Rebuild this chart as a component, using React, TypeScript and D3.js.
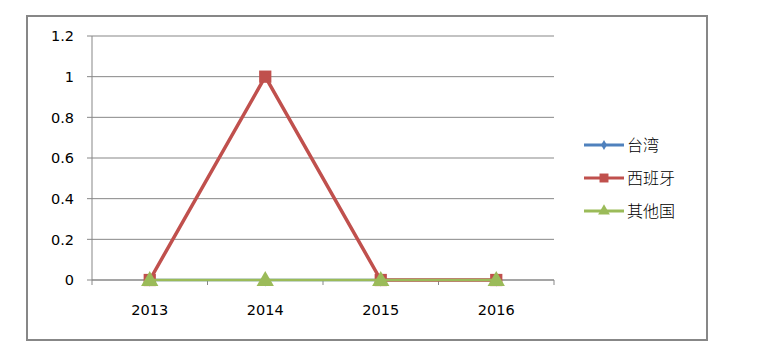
import React from "react";
import * as d3 from "d3";

// chart data
const years = ["2013", "2014", "2015", "2016"];
const seriesNames = ["台湾", "西班牙", "其他国"];
const taiwan = [0, 0, 0, 0];
const spain = [0, 1, 0, 0];
const others = [0, 0, 0, 0];
const yTicks = [0, 0.2, 0.4, 0.6, 0.8, 1, 1.2];

const colors = ["#4F81BD", "#C0504D", "#9BBB59"];
const symbols = [d3.symbolDiamond, d3.symbolSquare, d3.symbolTriangle];
const symbolSizes = [50, 150, 130];

const W = 758;
const H = 364;
const plot = { left: 92, right: 554, top: 36, bottom: 280 };

const App = () => {
  const x = d3.scaleBand().domain(years).range([plot.left, plot.right]);
  const y = d3.scaleLinear().domain([0, 1.2]).range([plot.bottom, plot.top]);
  const allSeries = [taiwan, spain, others];

  const line = d3
    .line<number>()
    .x((d, i) => (x(years[i]) as number) + x.bandwidth() / 2)
    .y((d) => y(d));

  const font = "'DejaVu Sans', sans-serif";
  const cjk = "'Noto Sans CJK SC', sans-serif";

  // x tick positions at band edges
  const xEdges = years.map((yr) => x(yr) as number).concat([plot.right]);

  return (
    <svg
      width={W}
      height={H}
      style={{ position: "absolute", left: 0, top: 0, background: "#fff" }}
    >
      {/* outer frame */}
      <rect x={27} y={16} width={680} height={324} fill="#fff" stroke="#878787" strokeWidth={2} />

      {/* grid lines */}
      {yTicks.map((t) => (
        <line key={t} x1={plot.left} x2={plot.right} y1={y(t)} y2={y(t)} stroke="#878787" strokeWidth={1} />
      ))}

      {/* y axis */}
      <line x1={plot.left} x2={plot.left} y1={plot.top} y2={plot.bottom} stroke="#878787" />
      {yTicks.map((t) => (
        <g key={"yt" + t}>
          <line x1={plot.left - 5} x2={plot.left} y1={y(t)} y2={y(t)} stroke="#878787" />
          <text
            x={74}
            y={y(t)}
            dy="0.36em"
            textAnchor="end"
            fontFamily={font}
            fontSize={14.5}
            fill="#000"
          >
            {t}
          </text>
        </g>
      ))}

      {/* x axis */}
      <line x1={plot.left} x2={plot.right} y1={plot.bottom} y2={plot.bottom} stroke="#878787" />
      {xEdges.map((e, i) => (
        <line key={"xt" + i} x1={e} x2={e} y1={plot.bottom} y2={plot.bottom + 5} stroke="#878787" />
      ))}
      {years.map((yr) => (
        <text
          key={yr}
          x={(x(yr) as number) + x.bandwidth() / 2}
          y={315}
          textAnchor="middle"
          fontFamily={font}
          fontSize={14.5}
          fill="#000"
        >
          {yr}
        </text>
      ))}

      {/* series */}
      {allSeries.map((s, si) => (
        <g key={"s" + si}>
          <path
            d={line(s) as string}
            fill="none"
            stroke={colors[si]}
            strokeWidth={si === 1 ? 3.5 : 2.5}
            strokeLinejoin="round"
          />
          {s.map((v, i) => {
            const cx = (x(years[i]) as number) + x.bandwidth() / 2;
            const cy = y(v) + (si === 2 ? 1 : 0);
            return (
              <path
                key={i}
                d={d3.symbol().type(symbols[si]).size(symbolSizes[si])() as string}
                transform={`translate(${cx},${cy})`}
                fill={colors[si]}
              />
            );
          })}
        </g>
      ))}

      {/* legend */}
      {seriesNames.map((name, i) => {
        const ly = 145 + i * 33;
        return (
          <g key={name}>
            <line x1={584} x2={624} y1={ly} y2={ly} stroke={colors[i]} strokeWidth={3} />
            <path
              d={d3.symbol().type(symbols[i]).size(i === 0 ? 30 : i === 1 ? 80 : 60)() as string}
              transform={`translate(604,${ly})`}
              fill={colors[i]}
            />
            <text x={627} y={ly} dy="0.36em" fontFamily={cjk} fontSize={16} fontWeight={300} fill="#000">
              {name}
            </text>
          </g>
        );
      })}
    </svg>
  );
};

export default App;
